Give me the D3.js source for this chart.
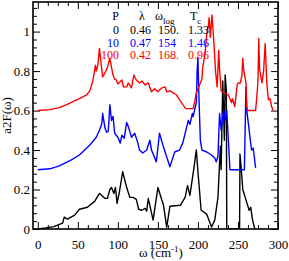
<!DOCTYPE html>
<html>
<head>
<meta charset="utf-8">
<script src="https://cdn.jsdelivr.net/npm/d3@7"></script>
<style>
  body { margin: 0; background: #fff; }
</style>
</head>
<body>
<svg class="chart" width="289" height="261"></svg>
<script>
// a2F(w) curves; blue and red are shifted up for display
var blackW = [0,10,20,31,33,37,46,52,62,71,77,80,84,87,90,92,95,97,99,102,106,111,115,119,123,126,130,134,136,138,144,150,157,161,165,178,184,187,190,195,198,200,204,211,217,221,225,228,229,231,233,234,235.5,236,252,252.5,254,256,259,264,266,268,271];
var blackV = [0,0.005,0.012,0.03,0.06,0.05,0.07,0.10,0.11,0.14,0.18,0.17,0.155,0.155,0.20,0.21,0.18,0.21,0.13,0.19,0.29,0.21,0.16,0.16,0.15,0.10,0.095,0.105,0.09,0.155,0.045,0.21,0.12,0.01,0.115,0.12,0.16,0.22,0.17,0.31,0.40,0.29,0.095,0.075,0.01,0.045,0.16,0.42,0.30,0.75,0.45,0.78,0.70,0,0,0.38,0.31,0.20,0.16,0.095,0.11,0.05,0];

var blueW = [0,15,27,42,52,65,73,77,80,81,84,86,88,90,92,94,96,100,103,105,108,111,113,117,121,125,127,131,136,140,142,148,152,157,161,165,167,171,177,181,188,190,193,194,198,199,200,201,203,205,211,217,221,223,225,227,229,232,234,236,238,240,258,260,261,263,265,267,269,270,272];
var blueV = [0,0.005,0.02,0.05,0.075,0.125,0.165,0.20,0.235,0.285,0.21,0.19,0.195,0.33,0.25,0.27,0.185,0.165,0.135,0.175,0.16,0.24,0.22,0.165,0.185,0.135,0.10,0.085,0.10,0.15,0.10,0.04,0.185,0.115,0.065,0.015,0.04,0.09,0.10,0.135,0.25,0.23,0.285,0.27,0.34,0.50,0.57,0.40,0.15,0.10,0.09,0.075,0.06,0.04,0.07,0.285,0.20,0.30,0.25,0.30,0.15,0,0,0.42,0.30,0.235,0.165,0.10,0.11,0.08,0.01];

var redW = [0,15,27,36,52,61,65,69,72,73,75,77,79,81,85,87,90,92,94,96,98,100,105,107,111,113,117,120,123,127,130,134,138,142,146,150,155,159,161,165,169,173,177,181,185,194,196,198,202,205,206,209,211,213,214,215.5,217.5,220,222,224,226,227,229,232,238,240,242,243,246,249,250,253,255,256,257,260,261,262,272,274,275,276,277,280,282,284,286,288,290,292,294];
var redV = [0,0.005,0.015,0.03,0.06,0.08,0.10,0.155,0.23,0.20,0.23,0.315,0.24,0.17,0.20,0.22,0.265,0.22,0.18,0.16,0.155,0.135,0.155,0.12,0.12,0.14,0.115,0.18,0.155,0.14,0.15,0.13,0.14,0.095,0.11,0.095,0.115,0.12,0.095,0.10,0.09,0.08,0.055,0.03,0.01,0.01,0.045,0.09,0.13,0.16,0.22,0.29,0.39,0.43,0.47,0.37,0.485,0.34,0.20,0.12,0.305,0.21,0.10,0.09,0.08,0.06,0.04,0.06,0.02,0.13,0.14,0.14,0.18,0.265,0.21,0.14,0.02,0,0,0.09,0.155,0.365,0.21,0.14,0.20,0.34,0.14,0.055,0.06,0.02,0];

var seriesColors = ["#000000", "#0000ff", "#ff0000"];
var seriesShift = [0, 0.3, 0.6];

// table in the top of the plot
var tableHead = ["P", "λ", "ω", "T"];
var tableSub = ["", "", "log", "c"];
var colP = ["0", "10", "100"];
var colLambda = ["0.46", "0.47", "0.42"];
var colWlog = ["150.", "154", "168."];
var colTc = ["1.33", "1.46", "0.96"];

var xTicks = [0, 50, 100, 150, 200, 250, 300];
var yTicks = [0, 0.2, 0.4, 0.6, 0.8, 1];
var yTickLabels = ["0", "0.2", "0.4", "0.6", "0.8", "1"];

var serif = "'Liberation Serif', 'Times New Roman', serif";
var svg = d3.select("svg.chart").attr("font-family", serif),
margin = {top: 2, right: 11, bottom: 32, left: 33};
var width = 289 - margin.left - margin.right,
height = 261 - margin.top - margin.bottom;
var g = svg.append("g").attr("transform", "translate(" + margin.left + "," + margin.top + ")");

var x = d3.scaleLinear().domain([-6, 300]).range([0, width]);
var y = d3.scaleLinear().domain([0, 1.15]).range([height, 0]);

// minor ticks
var xMinor = d3.range(0, 301, 12.5).filter(function(d) { return d % 50 != 0; });
var yMinor = d3.range(0, 1.15, 0.04).filter(function(d) { return Math.abs(d / 0.2 - Math.round(d / 0.2)) > 0.01; });

var addAxis = function(axis, tx, ty) {
  var a = g.append("g").attr("transform", "translate(" + tx + "," + ty + ")").call(axis);
  a.attr("font-family", serif);
  a.select(".domain").remove();
  a.selectAll("line").attr("stroke", "#000").attr("stroke-width", 1);
  return a;
};

// bottom & top
var xb = addAxis(d3.axisBottom(x).tickValues(xTicks).tickSize(-7).tickPadding(11).tickFormat(d3.format("d")), 0, height);
addAxis(d3.axisBottom(x).tickValues(xMinor).tickSize(-4).tickFormat(""), 0, height);
addAxis(d3.axisTop(x).tickValues(xTicks).tickSize(-7).tickFormat(""), 0, 0);
addAxis(d3.axisTop(x).tickValues(xMinor).tickSize(-4).tickFormat(""), 0, 0);
// left & right
var yl = addAxis(d3.axisLeft(y).tickValues(yTicks).tickSize(-7).tickPadding(3).tickFormat(function(d, i) { return yTickLabels[i]; }), 0, 0);
addAxis(d3.axisLeft(y).tickValues(yMinor).tickSize(-4).tickFormat(""), 0, 0);
addAxis(d3.axisRight(y).tickValues(yTicks).tickSize(-7).tickFormat(""), width, 0);
addAxis(d3.axisRight(y).tickValues(yMinor).tickSize(-4).tickFormat(""), width, 0);

xb.selectAll("text").attr("font-size", 13).attr("fill", "#000");
yl.selectAll("text").attr("font-size", 13).attr("fill", "#000");

// curves
var seriesW = [blackW, blueW, redW];
var seriesV = [blackV, blueV, redV];
g.append("clipPath").attr("id", "clip").append("rect")
  .attr("width", width).attr("height", height);
seriesW.forEach(function(ws, k) {
  var pts = ws.map(function(w, i) { return [w, seriesV[k][i] + seriesShift[k]]; });
  var line = d3.line()
    .x(function(d) { return x(d[0]); })
    .y(function(d) { return y(d[1]); });
  g.append("path")
    .datum(pts)
    .attr("clip-path", "url(#clip)")
    .attr("fill", "none")
    .attr("stroke", seriesColors[k])
    .attr("stroke-width", 1.4)
    .attr("stroke-linejoin", "round")
    .attr("d", line);
});

// frame
g.append("rect").attr("width", width).attr("height", height)
  .attr("fill", "none").attr("stroke", "#000").attr("stroke-width", 1.6);

// table (x in page pixels)
var fs = 12;
var hdX = [119, 139, 155, 190];
var hdAnchor = ["end", "start", "start", "start"];
var head = svg.append("g").attr("font-size", fs);
tableHead.forEach(function(h, i) {
  var t = head.append("text").attr("x", hdX[i]).attr("y", 20)
    .attr("text-anchor", hdAnchor[i]).text(h);
  if (tableSub[i]) {
    t.append("tspan").attr("dy", 4).attr("font-size", 9).text(tableSub[i]);
  }
});
var rowY = [34, 47, 59];
colP.forEach(function(p, r) {
  var c = seriesColors[r];
  var row = svg.append("g").attr("font-size", fs).attr("fill", c);
  row.append("text").attr("x", 119).attr("y", rowY[r]).attr("text-anchor", "end").text(p);
  row.append("text").attr("x", 130).attr("y", rowY[r]).text(colLambda[r]);
  row.append("text").attr("x", 158).attr("y", rowY[r]).text(colWlog[r]);
  row.append("text").attr("x", 188).attr("y", rowY[r]).text(colTc[r]);
});

// axis titles
svg.append("text")
  .attr("transform", "translate(11," + (margin.top + height / 2) + ") rotate(-90)")
  .attr("text-anchor", "middle").attr("font-size", 13).text("a2F(ω)");
var xt = svg.append("text")
  .attr("x", 161).attr("y", 257)
  .attr("text-anchor", "middle").attr("font-size", 13);
xt.append("tspan").text("ω  (cm");
xt.append("tspan").attr("dy", -5).attr("font-size", 9).text("-1");
xt.append("tspan").attr("dy", 5).text(")");
</script>
</body>
</html>
